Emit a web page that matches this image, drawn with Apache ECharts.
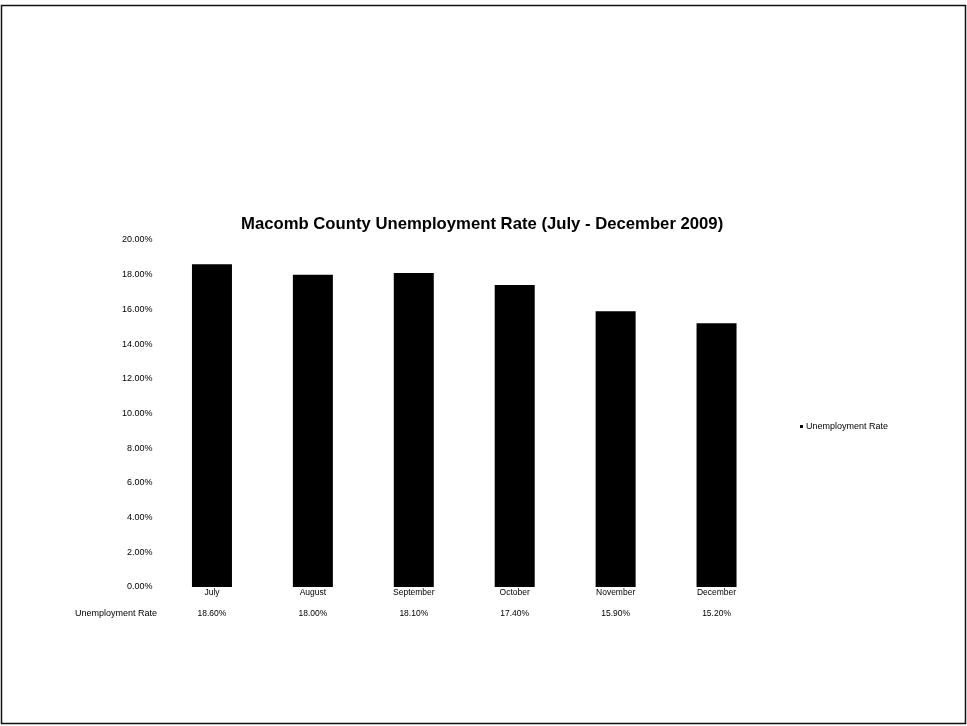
<!DOCTYPE html>
<html>
<head>
<meta charset="utf-8">
<script src="https://cdn.jsdelivr.net/npm/echarts@6/dist/echarts.min.js"></script>
<style>
  html, body { margin: 0; padding: 0; background: #fff; }
  #chart { width: 967px; height: 726px; }
</style>
</head>
<body>
<div id="chart"></div>
<script>
// Monthly unemployment rate, Macomb County, second half of 2009
const months = ['July', 'August', 'September', 'October', 'November', 'December'];
const rates = [18.6, 18.0, 18.1, 17.4, 15.9, 15.2];
const seriesName = 'Unemployment Rate';
const titleText = 'Macomb County Unemployment Rate (July - December 2009)';

const pct = v => v.toFixed(2) + '%';
const font = '"Liberation Sans", Arial, sans-serif';

const chart = echarts.init(document.getElementById('chart'), null, { renderer: 'canvas' });

chart.setOption({
  backgroundColor: '#ffffff',
  animation: false,
  title: {
    text: titleText,
    left: 236,
    top: 211,
    textStyle: { fontFamily: font, fontSize: 16.7, fontWeight: 'bold', color: '#000' }
  },
  legend: {
    left: 795,
    top: 417,
    icon: 'rect',
    itemWidth: 3,
    itemHeight: 3,
    itemGap: 2,
    textStyle: { fontFamily: font, fontSize: 9, color: '#000', padding: [0, 0, 0, -2] },
    data: [seriesName]
  },
  grid: { left: 161.5, right: 200, top: 240, bottom: 139 },
  xAxis: [
    {
      type: 'category',
      data: months,
      axisLine: { show: false },
      axisTick: { show: false },
      axisLabel: { fontFamily: font, fontSize: 8.5, color: '#000', margin: 1 }
    },
    {
      // data-table row beneath the month names
      type: 'category',
      position: 'bottom',
      offset: 19,
      data: rates.map(pct),
      axisLine: { show: false },
      axisTick: { show: false },
      axisLabel: { fontFamily: font, fontSize: 8.5, color: '#000', margin: 3 }
    }
  ],
  yAxis: {
    type: 'value',
    min: 0,
    max: 20,
    interval: 2,
    axisLine: { show: false },
    axisTick: { show: false },
    splitLine: { show: false },
    axisLabel: {
      fontFamily: font, fontSize: 9, color: '#000', margin: 9,
      formatter: v => pct(v)
    }
  },
  series: [{
    name: seriesName,
    type: 'bar',
    data: rates,
    barWidth: 40,
    itemStyle: { color: '#000' }
  }],
  graphic: [
    {
      type: 'text',
      left: 75,
      top: 609,
      style: { text: seriesName, fontFamily: font, fontSize: 9, fill: '#000' }
    },
    {
      // page frame
      type: 'rect',
      shape: { x: 1.5, y: 5.5, width: 964, height: 718 },
      style: { fill: 'none', stroke: '#111', lineWidth: 1.5 }
    }
  ]
});
</script>
</body>
</html>
